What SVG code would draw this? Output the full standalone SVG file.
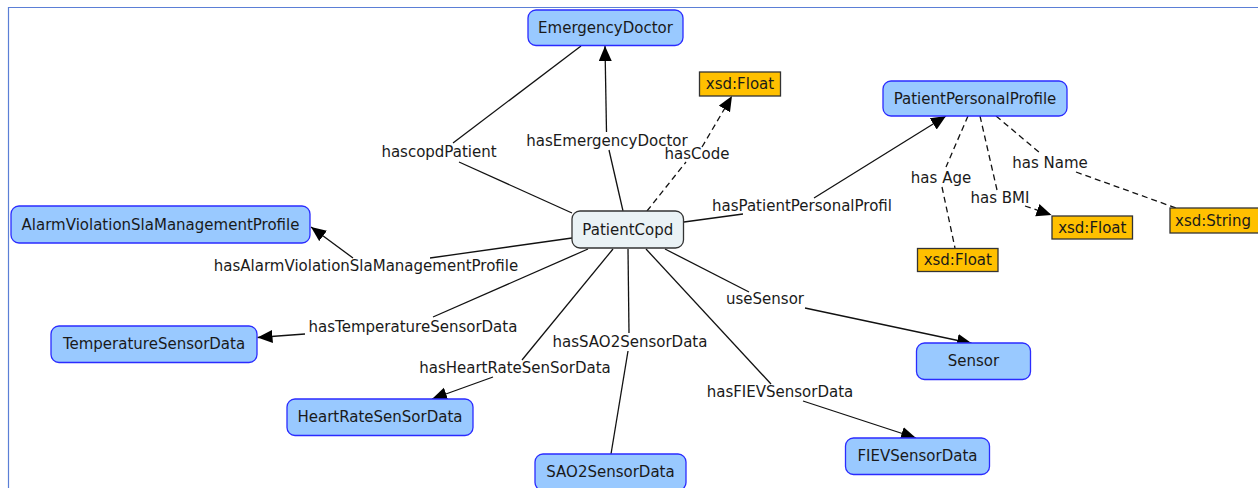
<svg xmlns="http://www.w3.org/2000/svg" width="1258" height="488" viewBox="0 0 1258 488">
<defs>
<marker id="arr" markerUnits="userSpaceOnUse" markerWidth="16" markerHeight="14" refX="15" refY="6.5" orient="auto">
<path d="M0,0 L15,6.5 L0,13 z" fill="#000"/>
</marker>
<style>
.bg{fill:#fff}
.frame{fill:none;stroke:#5b7fd6;stroke-width:1.2}
.cls{fill:#99c9ff;stroke:#2b2bff;stroke-width:1.3}
.main{fill:#eaf2f5;stroke:#333;stroke-width:1.3}
.lit{fill:#ffc000;stroke:#333;stroke-width:1.3}
text{font-family:"DejaVu Sans",Verdana,sans-serif;font-size:15px;fill:#1a1a1a}
.c{text-anchor:middle}
.ln{fill:none;stroke:#111;stroke-width:1.3}
.d{stroke-dasharray:6,4}
</style>
</defs>
<rect class="bg" x="0" y="0" width="1258" height="488"/>
<path class="frame" d="M8.5,488 V7.5 H1258"/>

<g id="connectors">
<!-- hascopdPatient -->
<line class="ln" x1="581" y1="46" x2="453" y2="143"/>
<line class="ln" x1="459" y1="162" x2="572" y2="213"/>
<text class="c" x="439" y="157">hascopdPatient</text>
<!-- hasEmergencyDoctor -->
<line class="ln" x1="623" y1="211" x2="609" y2="150"/>
<line class="ln" x1="606.5" y1="132" x2="605" y2="46" marker-end="url(#arr)"/>
<text class="c" x="607" y="146">hasEmergencyDoctor</text>
<!-- hasCode -->
<line class="ln d" x1="647" y1="211" x2="686" y2="162"/>
<line class="ln d" x1="702" y1="147" x2="732" y2="96" marker-end="url(#arr)"/>
<text class="c" x="697" y="159">hasCode</text>
<!-- hasPatientPersonalProfil -->
<line class="ln" x1="684" y1="222" x2="743" y2="214"/>
<line class="ln" x1="814" y1="198" x2="946" y2="116" marker-end="url(#arr)"/>
<text class="c" x="802" y="211">hasPatientPersonalProfil</text>
<!-- hasAlarmViolationSlaManagementProfile -->
<line class="ln" x1="572" y1="238" x2="430" y2="258"/>
<line class="ln" x1="353" y1="258" x2="311" y2="227" marker-end="url(#arr)"/>
<text class="c" x="366" y="271">hasAlarmViolationSlaManagementProfile</text>
<!-- hasTemperatureSensorData -->
<line class="ln" x1="588" y1="249" x2="433" y2="317"/>
<line class="ln" x1="305" y1="334" x2="257.5" y2="337.5" marker-end="url(#arr)"/>
<text class="c" x="413" y="332">hasTemperatureSensorData</text>
<!-- hasHeartRateSenSorData -->
<line class="ln" x1="613" y1="249" x2="522" y2="360"/>
<line class="ln" x1="493" y1="377" x2="432" y2="399" marker-end="url(#arr)"/>
<text class="c" x="515" y="373">hasHeartRateSenSorData</text>
<!-- hasSAO2SensorData -->
<line class="ln" x1="628" y1="249" x2="629" y2="333"/>
<line class="ln" x1="628" y1="351" x2="611" y2="454"/>
<text class="c" x="630" y="347">hasSAO2SensorData</text>
<!-- hasFIEVSensorData -->
<line class="ln" x1="646" y1="249" x2="771" y2="384"/>
<line class="ln" x1="803" y1="401" x2="916" y2="438" marker-end="url(#arr)"/>
<text class="c" x="780" y="397">hasFIEVSensorData</text>
<!-- useSensor -->
<line class="ln" x1="665" y1="249" x2="749" y2="292"/>
<line class="ln" x1="805" y1="308" x2="972" y2="343.5" marker-end="url(#arr)"/>
<text class="c" x="765" y="304">useSensor</text>
<!-- has Age -->
<line class="ln d" x1="968" y1="116" x2="946" y2="167"/>
<line class="ln d" x1="942" y1="187" x2="955" y2="248"/>
<text class="c" x="941" y="183">has Age</text>
<!-- has BMI -->
<line class="ln d" x1="980" y1="116" x2="997" y2="190"/>
<line class="ln d" x1="1025" y1="206" x2="1051.5" y2="215" marker-end="url(#arr)"/>
<text class="c" x="1000" y="203">has BMI</text>
<!-- has Name -->
<line class="ln d" x1="996" y1="116" x2="1040" y2="153"/>
<line class="ln d" x1="1076" y1="172" x2="1176" y2="208"/>
<text class="c" x="1050" y="168">has Name</text>
</g>

<g id="EmergencyDoctor"><rect class="cls" x="528" y="10" width="155" height="35.5" rx="8"/><text class="c" x="605.5" y="33">EmergencyDoctor</text></g>
<g id="hasCodeFloat"><rect class="lit" x="699.5" y="72" width="81" height="24"/><text class="c" x="740" y="89">xsd:Float</text></g>
<g id="PatientCopd"><rect class="main" x="572" y="211" width="111.5" height="37" rx="8"/><text class="c" x="627.8" y="234.5">PatientCopd</text></g>
<g id="PatientPersonalProfile"><rect class="cls" x="883" y="81" width="184" height="35" rx="8"/><text class="c" x="975" y="103.5">PatientPersonalProfile</text></g>
<g id="AgeFloat"><rect class="lit" x="917.5" y="248.5" width="80.5" height="23"/><text class="c" x="957.8" y="265">xsd:Float</text></g>
<g id="BMIFloat"><rect class="lit" x="1052" y="216" width="80.5" height="23"/><text class="c" x="1092.3" y="232.5">xsd:Float</text></g>
<g id="NameString"><rect class="lit" x="1170" y="208" width="92" height="25"/><text x="1175" y="225.5">xsd:String</text></g>
<g id="AlarmViolationSlaManagementProfile"><rect class="cls" x="11" y="206" width="299" height="37" rx="8"/><text class="c" x="160.5" y="229.5">AlarmViolationSlaManagementProfile</text></g>
<g id="TemperatureSensorData"><rect class="cls" x="51" y="326" width="206" height="36.5" rx="8"/><text class="c" x="154" y="349">TemperatureSensorData</text></g>
<g id="HeartRateSenSorData"><rect class="cls" x="287" y="399" width="186" height="36.5" rx="8"/><text class="c" x="380" y="422">HeartRateSenSorData</text></g>
<g id="SAO2SensorData"><rect class="cls" x="535" y="454" width="151" height="36.5" rx="8"/><text class="c" x="610.5" y="477">SAO2SensorData</text></g>
<g id="Sensor"><rect class="cls" x="916.5" y="343" width="114" height="36.5" rx="8"/><text class="c" x="973.5" y="366">Sensor</text></g>
<g id="FIEVSensorData"><rect class="cls" x="845.5" y="438" width="144" height="36.5" rx="8"/><text class="c" x="917.5" y="461">FIEVSensorData</text></g>
</svg>
